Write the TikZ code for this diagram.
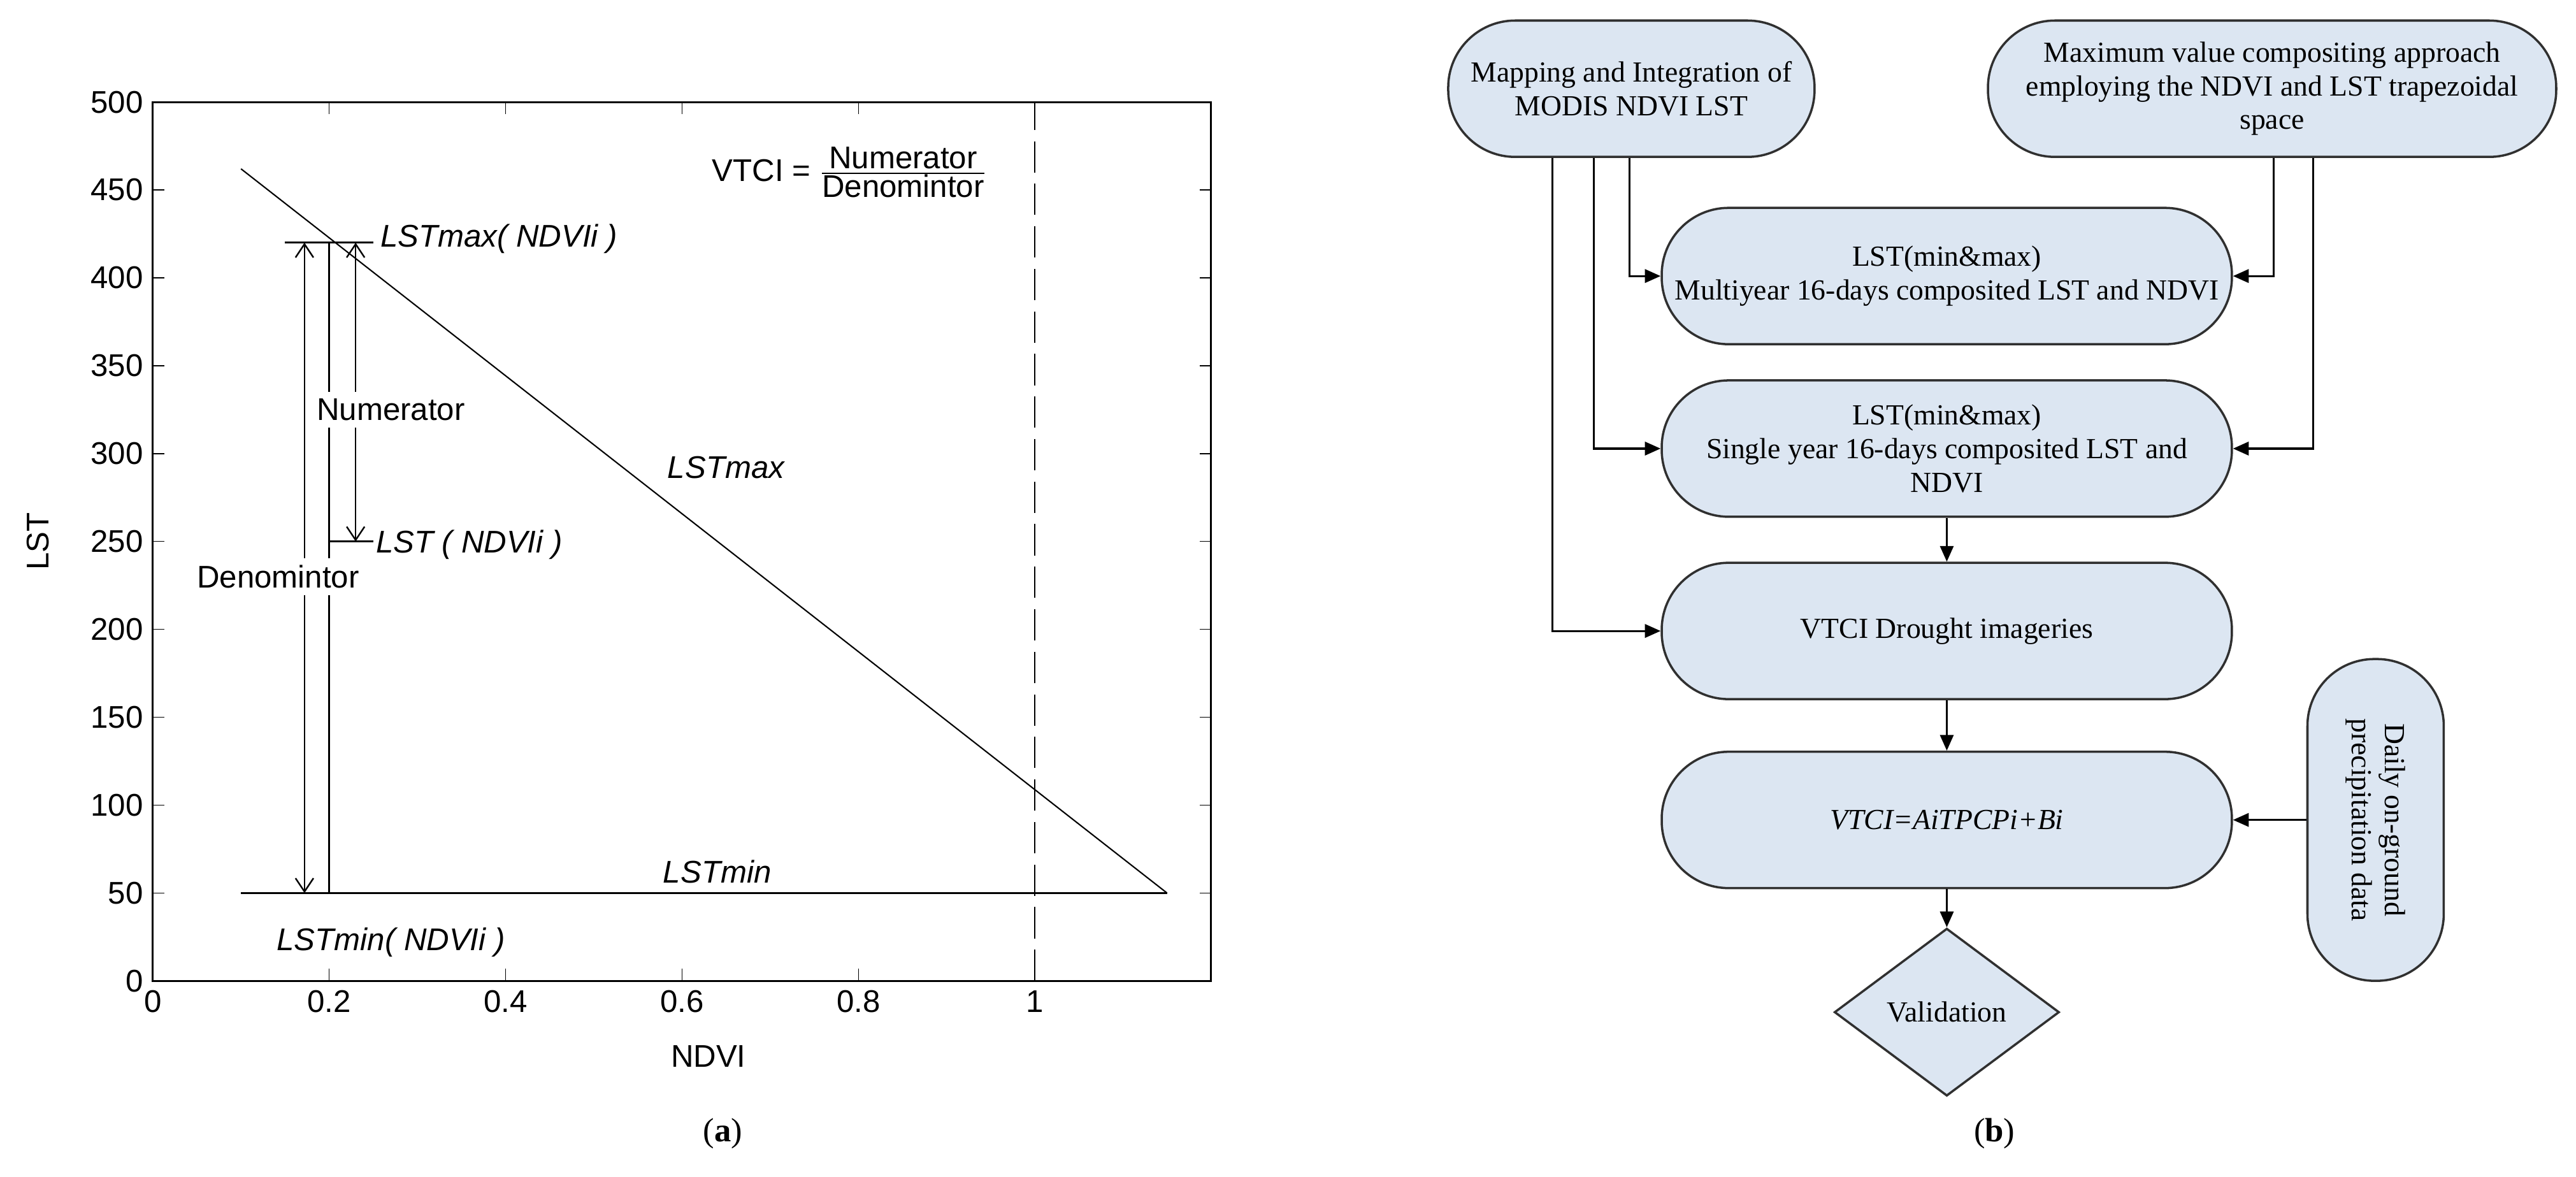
\documentclass[tikz,border=0pt]{standalone}
\usepackage{fontspec}
\setmainfont{Liberation Serif}
\newfontfamily\plotfont{Liberation Sans}
\usetikzlibrary{arrows.meta,shapes.geometric}
\definecolor{boxfill}{HTML}{DCE6F2}
\definecolor{boxdraw}{HTML}{303030}
\begin{document}
\begin{tikzpicture}[x=0.02578cm,y=-0.02578cm,
  pt/.style={font=\plotfont\fontsize{14}{16}\selectfont,inner sep=1pt},
  pit/.style={pt,font=\plotfont\itshape\fontsize{14}{16}\selectfont},
  barb/.style={{Straight Barb[length=6pt,width=8pt]}-{Straight Barb[length=6pt,width=8pt]}},
  stad/.style={draw=boxdraw,line width=1pt,fill=boxfill,rounded corners=1.05cm,
    minimum width=8.95cm,minimum height=2.14cm,align=center,
    font=\fontsize{13}{15}\selectfont,inner sep=2pt},
  fl/.style={-{Triangle[length=7pt,width=6pt]},line width=0.9pt}]
\useasboundingbox (0,0) rectangle (1568,716);
\fill[white] (0,0) rectangle (1568,716);
% ---------- plot (a)
\begin{scope}[shift={(93,597)},x=13.844cm,y=0.027585cm]
  \draw[line width=0.9pt] (0,0) rectangle (1.2,500);
  \foreach \v in {0,0.2,0.4,0.6,0.8,1}{
    \draw (\v,0) -- ++(0,7);
    \draw (\v,500) -- ++(0,-7);
    \node[pt,below] (xt\v) at (\v,-4) {\v};}
  \foreach \v in {0,50,...,500}{
    \draw (0,\v) -- ++(0.013,0);
    \draw (1.2,\v) -- ++(-0.013,0);
    \node[pt,left] (yt\v) at (-0.008,\v) {\v};}
  \node[pt] (xl) at (0.63,-43) {NDVI};
  \node[pt,rotate=90] (yl) at (-0.13,250) {LST};
  \coordinate (m1) at (0.1,462); \coordinate (m2) at (1.15,50);
  \coordinate (n1) at (0.1,50);
  \draw[line width=0.6pt] (m1) -- (m2);
  \draw[line width=0.9pt] (n1) -- (m2);
  \draw[dash pattern=on 14pt off 5pt,line width=0.7pt] (1,0) -- (1,500);
  \coordinate (h1) at (0.15,420); \coordinate (h2) at (0.25,420);
  \draw[line width=0.8pt] (h1) -- (h2);
  \coordinate (k1) at (0.2,250); \coordinate (k2) at (0.25,250);
  \draw[line width=0.8pt] (k1) -- (k2);
  \coordinate (d1) at (0.172,420); \coordinate (d2) at (0.172,50);
  \draw[barb,line width=0.7pt] (d1) -- (d2);
  \coordinate (v1) at (0.2,420); \coordinate (v2) at (0.2,50);
  \draw[line width=0.7pt] (v1) -- (v2);
  \coordinate (u1) at (0.23,420); \coordinate (u2) at (0.23,250);
  \draw[barb,line width=0.7pt] (u1) -- (u2);
  \node[pt,fill=white,inner sep=3pt] (den) at (0.142,230) {Denomintor};
  \node[pt,fill=white,inner sep=3pt] (num) at (0.27,325) {Numerator};
  \node[pit,right] (lmx) at (0.255,422) {LSTmax( NDVIi )};
  \node[pit,right] (lst) at (0.25,248) {LST ( NDVIi )};
  \node[pit] (lmn) at (0.27,22) {LSTmin( NDVIi )};
  \node[pit] (lmin) at (0.64,62) {LSTmin};
  \node[pit] (lmax) at (0.65,292) {LSTmax};
  \node[pt] (vt) at (0.79,460) {VTCI = $\frac{\mbox{\plotfont Numerator}}{\mbox{\plotfont Denomintor}}$};
\end{scope}
\node[font=\fontsize{15}{17}\selectfont] (lab a) at (440,690) {(\textbf{a})};
% ---------- flowchart (b)
\node[stad,minimum width=5.75cm] (A) at (993,54) {Mapping and Integration of\\MODIS NDVI LST};
\node[stad,minimum width=8.92cm] (B) at (1383,54) {Maximum value compositing approach\\employing the NDVI and LST trapezoidal\\space};
\node[stad] (C) at (1185,168) {LST(min\&max)\\Multiyear 16-days composited LST and NDVI};
\node[stad] (D) at (1185,273) {LST(min\&max)\\Single year 16-days composited LST and\\NDVI};
\node[stad] (E) at (1185,384) {VTCI Drought imageries};
\node[stad] (F) at (1185,499) {\itshape VTCI=AiTPCPi+Bi};
\node[stad,minimum width=2.14cm,minimum height=5.05cm] (G) at (1446,499) {};
\node[rotate=-90,align=center,font=\fontsize{13}{15}\selectfont] (Gt) at (G.center) {Daily on-ground\\precipitation data};
\node[diamond,draw=boxdraw,line width=1pt,fill=boxfill,minimum width=3.53cm,minimum height=2.63cm,
  font=\fontsize{13}{15}\selectfont,inner sep=0pt] (V) at (1185,616) {Validation};
\draw[fl] (A.south -| 992,0) |- (C.west);
\draw[fl] (A.south -| 970,0) |- (D.west);
\draw[fl] (A.south -| 945,0) |- (E.west);
\draw[fl] (B.south -| 1384,0) |- (C.east);
\draw[fl] (B.south -| 1408,0) |- (D.east);
\draw[fl] (D) -- (E);
\draw[fl] (E) -- (F);
\draw[fl] (F) -- (V);
\draw[fl] (G) -- (F);
\node[font=\fontsize{15}{17}\selectfont] (lab b) at (1214,690) {(\textbf{b})};
\end{tikzpicture}
\end{document}
